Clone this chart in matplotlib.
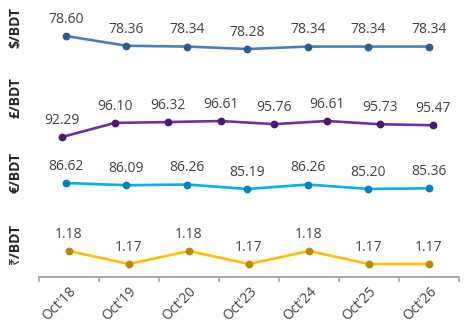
import matplotlib
matplotlib.use("Agg")
import matplotlib.pyplot as plt

plt.rcParams['font.family'] = ['Open Sans', 'Noto Sans', 'DejaVu Sans']

periods = ["Oct'18", "Oct'19", "Oct'20", "Oct'23", "Oct'24", "Oct'25", "Oct'26"]
usd_bdt = [78.60, 78.36, 78.34, 78.28, 78.34, 78.34, 78.34]
gbp_bdt = [92.29, 96.10, 96.32, 96.61, 95.76, 96.61, 95.73, 95.47]
eur_bdt = [86.62, 86.09, 86.26, 85.19, 86.26, 85.20, 85.36]
inr_bdt = [1.18, 1.17, 1.18, 1.17, 1.18, 1.17, 1.17]

W, H = 476, 336
fig = plt.figure(figsize=(W / 100, H / 100), dpi=100)
TXT = '#404040'

# panel: values, ylabel, line colour, marker colour, (first x px, last x px), (top px, bottom px), ylabel y px
panels = [
    (usd_bdt, '$/BDT', '#4A7EBB', '#2E5C94', (66, 429), (36, 49), 28),
    (gbp_bdt, '£/BDT', '#7030A0', '#4A1A70', (62, 433), (121, 137), 98),
    (eur_bdt, '€/BDT', '#00B0F0', '#0082B4', (66, 429), (183, 189), 173),
    (inr_bdt, '₹/BDT', '#FFC000', '#B88A00', (69, 429), (251, 277), 243),
]

for i, (vals, name, col, mcol, (x0, x1), (top, bot), ly) in enumerate(panels):
    n = len(vals)
    x = list(range(n))
    step = (x1 - x0) / (n - 1)
    left = x0 - step / 2
    ax = fig.add_axes([left / W, 1 - bot / H, step * n / W, (bot - top) / H])
    ax.plot(x, vals, color=col, lw=1.9, marker='o', ms=4.6,
            mfc=mcol, mec=mcol, clip_on=False, zorder=3)
    for xi, v in zip(x, vals):
        ax.annotate(f'{v:.2f}', (xi, v), xytext=(0, 12), textcoords='offset points',
                    ha='center', va='center', fontsize=10, color=TXT)
    ax.set_xlim(-0.5, n - 0.5)
    lo, hi = min(vals), max(vals)
    last = i == len(panels) - 1
    if last:
        ax.set_ylim(lo - (hi - lo), hi)
    else:
        ax.set_ylim(lo, hi)
    ax.patch.set_visible(False)
    for s in ['top', 'right', 'left']:
        ax.spines[s].set_visible(False)
    ax.set_yticks([])
    if last:
        ax.spines['bottom'].set_color('#A6A6A6')
        ax.spines['bottom'].set_linewidth(1.4)
        ax.set_xticks([k - 0.5 for k in range(n + 1)])
        ax.set_xticklabels([])
        ax.tick_params(axis='x', which='major', direction='out', length=3.5,
                       width=1.2, color='#A6A6A6')
        ax.set_xticks(x, minor=True)
        ax.set_xticklabels(periods, minor=True, rotation=45, ha='right',
                           rotation_mode='anchor', fontsize=10, color=TXT)
        ax.tick_params(axis='x', which='minor', length=0, pad=5)
    else:
        ax.spines['bottom'].set_visible(False)
        ax.set_xticks([])
    fig.text(15 / W, 1 - ly / H, name, rotation=90, ha='center', va='center',
             fontsize=10, fontweight='bold', color='#262626')

fig.savefig('out.png', dpi=100)
